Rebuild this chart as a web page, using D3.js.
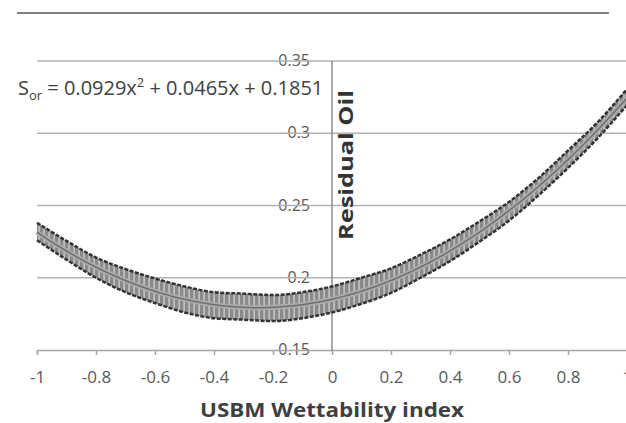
<!DOCTYPE html>
<html>
<head>
<meta charset="utf-8">
<script src="https://cdn.jsdelivr.net/npm/d3@7"></script>
<style>
  body { margin: 0; background: #fff; }
  text { font-family: "Open Sans", "Liberation Sans", sans-serif; }
</style>
</head>
<body>
<div id="chart"></div>
<script>
// wettability index (x) and residual oil
const xValues = [-1, -0.9, -0.8, -0.7, -0.6, -0.5, -0.4, -0.3, -0.2, -0.1, 0,
                 0.1, 0.2, 0.3, 0.4, 0.5, 0.6, 0.7, 0.8, 0.9, 1];
const residualOil = [0.232, 0.219, 0.207, 0.198, 0.191, 0.185, 0.181, 0.180, 0.179, 0.181, 0.185,
                     0.191, 0.198, 0.208, 0.219, 0.232, 0.246, 0.263, 0.282, 0.302, 0.325];
// half height of the marker band
const spread = [0.006, 0.0065, 0.007, 0.008, 0.0085, 0.009, 0.009, 0.009, 0.009, 0.009, 0.009,
                0.009, 0.0085, 0.008, 0.0075, 0.007, 0.0065, 0.006, 0.006, 0.0055, 0.0055];
// trendline coefficients as printed on the chart (a x^2 + b x + c)
const trendCoef = [0.0929, 0.0465, 0.1851];
const xTicks = [-1, -0.8, -0.6, -0.4, -0.2, 0, 0.2, 0.4, 0.6, 0.8, 1];
const yTicks = [0.15, 0.2, 0.25, 0.3, 0.35];

const W = 626, H = 423;
const svg = d3.select("#chart").append("svg").attr("width", W).attr("height", H);

const x = d3.scaleLinear().domain([-1, 1]).range([37, 627]);
const y = d3.scaleLinear().domain([0.15, 0.35]).range([350, 61]);

// top rule
svg.append("line")
    .attr("x1", 17).attr("x2", 609).attr("y1", 13).attr("y2", 13)
    .attr("stroke", "#555").attr("stroke-width", 1.5);

// y tick labels (sit on the grid lines)
svg.append("g").selectAll("text")
    .data(yTicks).enter().append("text")
    .attr("x", 310).attr("y", d => y(d) + 5)
    .attr("text-anchor", "end")
    .attr("font-size", 16).attr("fill", "#595959")
    .text(d => d);

// horizontal gridlines
svg.append("g").selectAll("line")
    .data(yTicks.filter(d => d > 0.15)).enter().append("line")
    .attr("x1", x(-1)).attr("x2", W)
    .attr("y1", d => y(d)).attr("y2", d => y(d))
    .attr("stroke", "#b3b3b3").attr("stroke-width", 1.5);

// x axis at 0.15
const xAxis = svg.append("g")
    .attr("transform", `translate(0, ${y(0.15)})`)
    .call(d3.axisBottom(x).tickValues(xTicks).tickSize(5).tickFormat(d => d));
xAxis.select(".domain").attr("stroke", "#a6a6a6").attr("stroke-width", 1.5);
xAxis.selectAll(".tick line").attr("stroke", "#a6a6a6").attr("stroke-width", 1.5);
xAxis.selectAll(".tick text")
    .attr("y", 33).attr("dy", 0)
    .attr("font-size", 17).attr("fill", "#595959")
    .attr("font-family", "Open Sans, Liberation Sans, sans-serif");

// y axis at x = 0
svg.append("line")
    .attr("x1", x(0)).attr("x2", x(0)).attr("y1", y(0.35)).attr("y2", y(0.15) + 1)
    .attr("stroke", "#8c8c8c").attr("stroke-width", 1.5);

// marker band
const defs = svg.append("defs");
const pat = defs.append("pattern").attr("id", "stripes")
    .attr("patternUnits", "userSpaceOnUse").attr("width", 5).attr("height", 5);
pat.append("rect").attr("width", 5).attr("height", 5).attr("fill", "#8a8a8a");
pat.append("rect").attr("x", 3.5).attr("width", 1.2).attr("height", 5).attr("fill", "#d8d8d8");

const pts = xValues.map((v, i) => ({x: v, y: residualOil[i], s: spread[i]}));

const band = d3.area()
    .x(d => x(d.x))
    .y0(d => y(d.y - d.s))
    .y1(d => y(d.y + d.s))
    .curve(d3.curveMonotoneX);

svg.append("path").datum(pts)
    .attr("d", band)
    .attr("fill", "url(#stripes)");

const edgeTop = d3.line().x(d => x(d.x)).y(d => y(d.y + d.s)).curve(d3.curveMonotoneX);
const edgeBot = d3.line().x(d => x(d.x)).y(d => y(d.y - d.s)).curve(d3.curveMonotoneX);
[edgeTop, edgeBot].forEach(g => {
    svg.append("path").datum(pts)
        .attr("d", g)
        .attr("fill", "none")
        .attr("stroke", "#333")
        .attr("stroke-width", 2.5)
        .attr("stroke-dasharray", "4 1.5");
});

// polynomial trendline
const trend = d3.range(0, 201).map(i => {
    const t = -1 + i / 100;
    return {x: t, y: trendCoef[0] * t * t + trendCoef[1] * t + trendCoef[2]};
});
const trendLine = d3.line().x(d => x(d.x)).y(d => y(d.y));
svg.append("path").datum(trend)
    .attr("d", trendLine)
    .attr("fill", "none").attr("stroke", "#ababab").attr("stroke-width", 5);
svg.append("path").datum(trend)
    .attr("d", trendLine)
    .attr("fill", "none").attr("stroke", "#6e6e6e").attr("stroke-width", 1.5);

// trendline equation
const eq = svg.append("text")
    .attr("x", 18).attr("y", 95)
    .attr("font-size", 20).attr("fill", "#404040");
eq.append("tspan").text("S");
eq.append("tspan").attr("font-size", 13).attr("dy", 5).text("or");
eq.append("tspan").attr("dy", -5).text(` = ${trendCoef[0]}x`);
eq.append("tspan").attr("font-size", 13).attr("dy", -8).text("2");
eq.append("tspan").attr("dy", 8).text(` + ${trendCoef[1]}x + ${trendCoef[2]}`);

// axis titles
svg.append("text")
    .attr("transform", `translate(353, 165) rotate(-90)`)
    .attr("text-anchor", "middle")
    .attr("font-size", 20).attr("font-weight", "bold").attr("fill", "#333")
    .attr("textLength", 150).attr("lengthAdjust", "spacingAndGlyphs")
    .text("Residual Oil");

svg.append("text")
    .attr("x", 332).attr("y", 417)
    .attr("text-anchor", "middle")
    .attr("font-size", 20).attr("font-weight", "bold").attr("fill", "#404040")
    .attr("textLength", 264).attr("lengthAdjust", "spacingAndGlyphs")
    .text("USBM Wettability index");
</script>
</body>
</html>
